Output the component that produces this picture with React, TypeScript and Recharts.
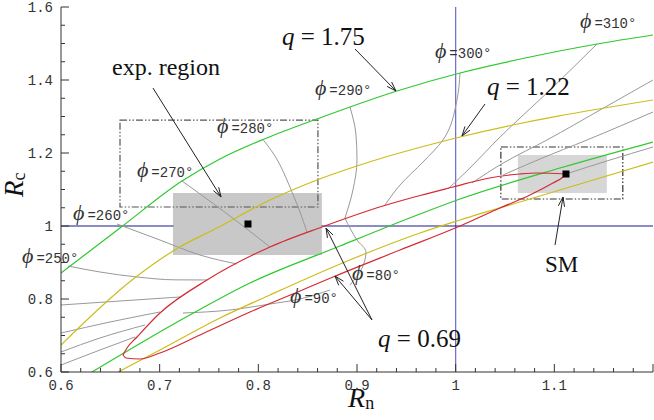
import React from "react";
import {
  ComposedChart,
  Line,
  XAxis,
  YAxis,
  ReferenceArea,
  ReferenceDot,
  ReferenceLine,
} from "recharts";

type Pt = { x: number; y: number };
const P = (x: number, y: number): Pt => ({ x, y });

// q = 1.75 (green), two branches
const greenOuter: Pt[] = [
  P(0.6, 0.8712), P(0.6598, 0.9945), P(0.7226, 1.1233), P(0.7611, 1.1836), P(0.8047, 1.237),
  P(0.8594, 1.2932), P(0.9405, 1.3699), P(1.0044, 1.4192), P(1.0753, 1.463), P(1.1432, 1.4986),
  P(1.2, 1.5233),
];
const greenInner: Pt[] = [
  P(0.6314, 0.6), P(0.7287, 0.7534), P(0.7915, 0.8438), P(0.8828, 0.9452), P(0.9638, 1.0329),
  P(1.0044, 1.074), P(1.1057, 1.1589), P(1.2, 1.2301),
];

// q = 1.22 (yellow)
const yellowOuter: Pt[] = [
  P(0.6, 0.674), P(0.672, 0.852), P(0.7186, 0.9397), P(0.7581, 0.9945), P(0.8118, 1.0712),
  P(0.8594, 1.126), P(0.903, 1.1671), P(1.0044, 1.2438), P(1.2, 1.3452),
];
const yellowInner: Pt[] = [
  P(0.6578, 0.6), P(0.7003, 0.6603), P(0.7611, 0.7479), P(0.8118, 0.811), P(0.8878, 0.9014),
  P(0.9638, 0.9808), P(1.0044, 1.0164), P(1.0753, 1.074), P(1.2, 1.1753),
];

// q = 0.69 (red): the two halves of a loop, from its tip to the SM point
const redUpper: Pt[] = [
  P(0.6628, 0.6466), P(0.6669, 0.6658), P(0.677, 0.6959), P(0.7003, 0.7616), P(0.748, 0.8521),
  P(0.8118, 0.9425), P(0.8645, 0.9973), P(0.9263, 1.0548), P(0.9638, 1.0836), P(0.9973, 1.1068),
  P(1.0317, 1.1301), P(1.0652, 1.1425), P(1.0824, 1.1452), P(1.1118, 1.1425),
];
const redLower: Pt[] = [
  P(0.6628, 0.6466), P(0.666, 0.6384), P(0.68, 0.6356), P(0.7003, 0.652), P(0.7409, 0.7014),
  P(0.7915, 0.7644), P(0.8422, 0.8219), P(0.8757, 0.8603), P(0.9436, 0.9342), P(1.0044, 1.0),
  P(1.0449, 1.0493), P(1.0753, 1.0849), P(1.0986, 1.1178), P(1.1088, 1.1342), P(1.1118, 1.1425),
];

// constant-phase lines
const phiLines: Pt[][] = [
  [P(0.6, 0.6192), P(0.6395, 0.6603), P(0.675, 0.6959)],
  [P(0.6, 0.6548), P(0.6395, 0.6932), P(0.6851, 0.7288)],
  [P(0.6, 0.7068), P(0.6497, 0.737), P(0.7003, 0.7644)],
  [P(0.6, 0.7836), P(0.6598, 0.7945), P(0.7206, 0.8055)],
  [P(0.6071, 0.8904), P(0.6395, 0.874), P(0.677, 0.8603), P(0.7155, 0.8525), P(0.748, 0.8521)],
  [P(0.6568, 1.0055), P(0.7003, 0.9616), P(0.7409, 0.9205), P(0.7784, 0.8959)],
  [P(0.7226, 1.1233), P(0.7672, 1.0356), P(0.8118, 0.9425)],
  [P(0.8047, 1.237), P(0.822, 1.1671), P(0.8341, 1.0932), P(0.8422, 1.0384), P(0.8493, 0.9836)],
  [P(0.8929, 1.326), P(0.899, 1.2493), P(0.9, 1.1808), P(0.8959, 1.0986), P(0.8878, 1.0219)],
  [P(1.0044, 1.4192), P(1.0013, 1.3452), P(0.9871, 1.2356), P(0.9669, 1.1753), P(0.9436, 1.1123), P(0.9284, 1.0575)],
  [P(1.1432, 1.4986), P(1.0956, 1.3726), P(1.0419, 1.2356), P(1.0145, 1.1589), P(0.9922, 1.1014)],
  [P(1.2, 1.4), P(1.1463, 1.3178), P(1.0925, 1.2356), P(1.05, 1.1753), P(1.0165, 1.1178)],
  [P(1.2, 1.3123), P(1.1331, 1.2356), P(1.0855, 1.1836), P(1.048, 1.1397)],
  [P(1.2, 1.2164), P(1.1564, 1.1808), P(1.1118, 1.1425)],
  [P(0.7236, 0.7616), P(0.7713, 0.7699), P(0.8118, 0.7863), P(0.8422, 0.8), P(0.8726, 0.8247)],
  [P(0.8878, 1.0219), P(0.9, 0.9616), P(0.9091, 0.9288), P(0.9051, 0.8849), P(0.8929, 0.8384)],
];

const blueLeft: Pt[] = [P(0.6, 1), P(0.714, 1)];
const blueRight: Pt[] = [P(0.864, 1), P(1.2, 1)];

// experimental and SM regions
const expBox = { x1: 0.7135, x2: 0.8644, y1: 0.9205, y2: 1.0904 };
const expOuter = { x1: 0.6598, x2: 0.8604, y1: 1.052, y2: 1.29 };
const smBox = { x1: 1.063, x2: 1.1532, y1: 1.0904, y2: 1.1945 };
const smOuter = { x1: 1.0458, x2: 1.1694, y1: 1.074, y2: 1.2164 };
const centers: Pt[] = [P(0.7895, 1.0055), P(1.1118, 1.1425)];

const phiLabels = [
  { t: "=310°", x: 1.126, y: 1.5425 },
  { t: "=300°", x: 0.979, y: 1.4603 },
  { t: "=290°", x: 0.8574, y: 1.3589 },
  { t: "=280°", x: 0.7581, y: 1.2548 },
  { t: "=270°", x: 0.677, y: 1.1342 },
  { t: "=260°", x: 0.6122, y: 1.0164 },
  { t: "=250°", x: 0.5605, y: 0.8986 },
  { t: "=80°", x: 0.8949, y: 0.8521 },
  { t: "=90°", x: 0.8321, y: 0.789 },
];

const qLabels = [
  { t: "1.75", x: 0.824, y: 1.4959 },
  { t: "1.22", x: 1.0317, y: 1.3589 },
  { t: "0.69", x: 0.9213, y: 0.6685 },
];

const arrows: [Pt, Pt][] = [
  [P(0.6932, 1.3781), P(0.7622, 1.0795)],
  [P(0.898, 1.4849), P(0.9395, 1.3699)],
  [P(1.0297, 1.3342), P(1.0064, 1.2466)],
  [P(0.9152, 0.7425), P(0.8686, 0.9945)],
  [P(0.9152, 0.7425), P(0.8777, 0.863)],
  [P(1.1007, 0.9479), P(1.1088, 1.0795)],
];

const xTicks = [0.6, 0.7, 0.8, 0.9, 1, 1.1];
const yTicks = [0.6, 0.8, 1, 1.2, 1.4, 1.6];

const xAll: number[] = [];
for (let i = 0; i <= 30; i++) xAll.push(Math.round((0.6 + i * 0.02) * 100) / 100);
const yAll: number[] = [];
for (let i = 0; i <= 20; i++) yAll.push(Math.round((0.6 + i * 0.05) * 100) / 100);

const AXIS = "#333";
const MONO = "'Liberation Mono', 'DejaVu Sans Mono', monospace";
const SERIF = "'Liberation Serif', 'DejaVu Serif', serif";

const isIn = (v: number, list: number[]) => list.some((t) => Math.abs(t - v) < 1e-6);
const fmt = (v: number) => (Math.abs(v - 1) < 1e-6 ? "1" : v.toFixed(1));
const xMonotone = (d: Pt[]) => d.every((p, i) => i === 0 || p.x > d[i - 1].x);

const tickFor = (side: "bottom" | "top" | "left" | "right", labels: boolean) => (props: any) => {
  const { x, y, payload } = props;
  const v = payload.value as number;
  const major = isIn(v, side === "bottom" || side === "top" ? xTicks.concat([1.2]) : yTicks);
  const len = major ? 8 : 4;
  let tl;
  if (side === "bottom") tl = <line x1={x} y1={y} x2={x} y2={y - len} stroke={AXIS} />;
  else if (side === "top") tl = <line x1={x} y1={y} x2={x} y2={y + len} stroke={AXIS} />;
  else if (side === "left") tl = <line x1={x} y1={y} x2={x + len} y2={y} stroke={AXIS} />;
  else tl = <line x1={x} y1={y} x2={x - len} y2={y} stroke={AXIS} />;
  let label = null;
  if (labels && side === "bottom" && isIn(v, xTicks))
    label = (
      <text x={x} y={y + 18} textAnchor="middle" fontFamily={MONO} fontSize={14} fill={AXIS}>
        {fmt(v)}
      </text>
    );
  if (labels && side === "left" && isIn(v, yTicks))
    label = (
      <text x={x - 8} y={y + 5} textAnchor="end" fontFamily={MONO} fontSize={14} fill={AXIS}>
        {fmt(v)}
      </text>
    );
  return (
    <g>
      {tl}
      {label}
    </g>
  );
};

const Arrow = (props: any) => {
  const { x1, y1, x2, y2 } = props;
  const a = Math.atan2(y2 - y1, x2 - x1);
  const h = 10;
  const w = 0.32;
  return (
    <g stroke="#222" strokeWidth={1} fill="none">
      <line x1={x1} y1={y1} x2={x2} y2={y2} />
      <line x1={x2} y1={y2} x2={x2 - h * Math.cos(a - w)} y2={y2 - h * Math.sin(a - w)} />
      <line x1={x2} y1={y2} x2={x2 - h * Math.cos(a + w)} y2={y2 - h * Math.sin(a + w)} />
    </g>
  );
};

const line = (d: Pt[], stroke: string, key: string, width = 1.2) => (
  <Line
    key={key}
    data={d}
    dataKey="y"
    type={xMonotone(d) ? "monotone" : "monotoneY"}
    stroke={stroke}
    strokeWidth={width}
    dot={false}
    activeDot={false}
    isAnimationActive={false}
  />
);

export default function App() {
  return (
    <div style={{ position: "absolute", left: 0, top: 0 }}>
      <ComposedChart width={654} height={420} margin={{ top: 7, right: 1, left: 0, bottom: 0 }}>
        <XAxis
          dataKey="x"
          type="number"
          domain={[0.6, 1.2]}
          allowDataOverflow
          ticks={xAll}
          interval={0}
          height={48}
          tickSize={0}
          tickMargin={0}
          tickLine={false}
          axisLine={{ stroke: AXIS }}
          tick={tickFor("bottom", true)}
        />
        <XAxis
          xAxisId="top"
          orientation="top"
          dataKey="x"
          type="number"
          domain={[0.6, 1.2]}
          allowDataOverflow
          ticks={xAll}
          interval={0}
          height={0}
          tickSize={0}
          tickMargin={0}
          tickLine={false}
          axisLine={{ stroke: AXIS }}
          tick={tickFor("top", false)}
        />
        <YAxis
          type="number"
          domain={[0.6, 1.6]}
          allowDataOverflow
          ticks={yAll}
          interval={0}
          width={61}
          tickSize={0}
          tickMargin={0}
          tickLine={false}
          axisLine={{ stroke: AXIS }}
          tick={tickFor("left", true)}
        />
        <YAxis
          yAxisId="right"
          orientation="right"
          type="number"
          domain={[0.6, 1.6]}
          allowDataOverflow
          ticks={yAll}
          interval={0}
          width={0}
          tickSize={0}
          tickMargin={0}
          tickLine={false}
          axisLine={{ stroke: AXIS }}
          tick={tickFor("right", false)}
        />

        <ReferenceLine x={1} stroke="#6a6ac8" strokeWidth={1.2} />
        <ReferenceArea {...smBox} fill="#d6d6d6" fillOpacity={1} stroke="none" />
        <ReferenceArea {...expBox} fill="#c8c8c8" fillOpacity={1} stroke="none" />
        <ReferenceArea {...expOuter} fill="none" stroke="#555" strokeWidth={1.2} strokeDasharray="7 2 1.5 2 1.5 2" />
        <ReferenceArea {...smOuter} fill="none" stroke="#333" strokeWidth={1.2} strokeDasharray="7 2 1.5 2 1.5 2" />

        {line(blueLeft, "#1a1a8a", "bl", 1.2)}
        {line(blueRight, "#1a1a8a", "br", 1.2)}
        {phiLines.map((d, i) => line(d, "#999", "phi" + i, 1))}
        {line(greenOuter, "#2ec82e", "g1")}
        {line(greenInner, "#2ec82e", "g2")}
        {line(yellowOuter, "#cbbd1b", "y1")}
        {line(yellowInner, "#cbbd1b", "y2")}
        {line(redUpper, "#d42a32", "r1")}
        {line(redLower, "#d42a32", "r2")}

        {centers.map((c, i) => (
          <ReferenceDot
            key={"c" + i}
            x={c.x}
            y={c.y}
            r={3}
            shape={(p: any) => <rect x={p.cx - 3.5} y={p.cy - 3.5} width={7} height={7} fill="#000" />}
          />
        ))}

        {arrows.map((a, i) => (
          <ReferenceLine key={"a" + i} segment={a} ifOverflow="visible" shape={Arrow} />
        ))}

        {phiLabels.map((l, i) => (
          <ReferenceDot
            key={"pl" + i}
            x={l.x}
            y={l.y}
            r={1}
            ifOverflow="visible"
            shape={(p: any) => (
              <text x={p.cx} y={p.cy} fill="#333">
                <tspan fontFamily={SERIF} fontStyle="italic" fontSize={22}>ϕ</tspan>
                <tspan fontFamily={MONO} fontSize={14} dx={3}>{l.t}</tspan>
              </text>
            )}
          />
        ))}

        {qLabels.map((l, i) => (
          <ReferenceDot
            key={"ql" + i}
            x={l.x}
            y={l.y}
            r={1}
            shape={(p: any) => (
              <text x={p.cx} y={p.cy} fill="#111" fontFamily={SERIF} fontSize={25}>
                <tspan fontStyle="italic">q</tspan>
                <tspan> = {l.t}</tspan>
              </text>
            )}
          />
        ))}

        <ReferenceDot
          x={0.6517}
          y={1.4137}
          r={1}
          shape={(p: any) => (
            <text x={p.cx} y={p.cy} fill="#111" fontFamily={SERIF} fontSize={24}>
              exp. region
            </text>
          )}
        />
        <ReferenceDot
          x={1.0905}
          y={0.874}
          r={1}
          shape={(p: any) => (
            <text x={p.cx} y={p.cy} fill="#111" fontFamily={SERIF} fontSize={23}>
              SM
            </text>
          )}
        />
        <ReferenceDot
          x={0.8909}
          y={0.5041}
          r={1}
          ifOverflow="visible"
          shape={(p: any) => (
            <text x={p.cx} y={p.cy} fill="#111" fontFamily={SERIF} fontSize={28}>
              <tspan fontStyle="italic">R</tspan>
              <tspan fontSize={18} dy={2}>n</tspan>
            </text>
          )}
        />
        <ReferenceDot
          x={0.5615}
          y={1.0795}
          r={1}
          ifOverflow="visible"
          shape={(p: any) => (
            <text x={p.cx} y={p.cy} fill="#111" fontFamily={SERIF} fontSize={27} transform={`rotate(-90 ${p.cx} ${p.cy})`}>
              <tspan fontStyle="italic">R</tspan>
              <tspan fontSize={18} dy={2}>c</tspan>
            </text>
          )}
        />
      </ComposedChart>
    </div>
  );
}
